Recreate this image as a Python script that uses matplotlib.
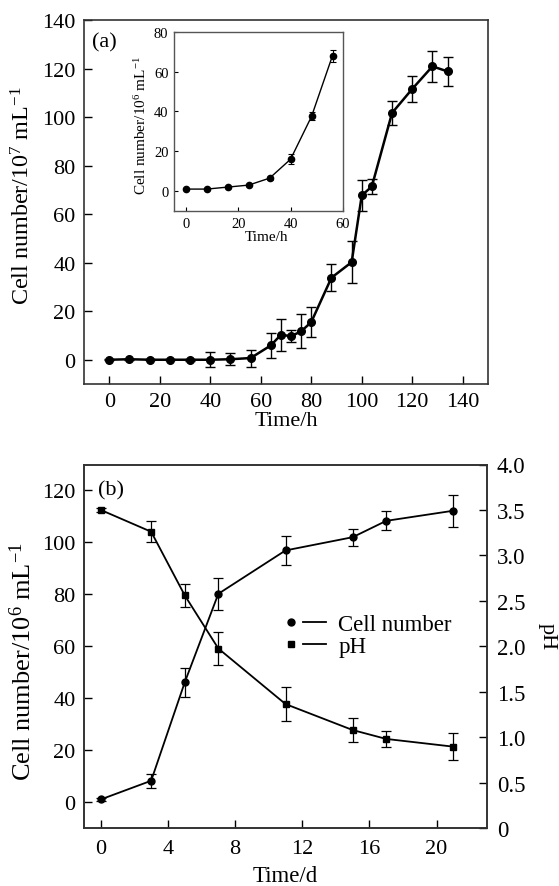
import matplotlib
matplotlib.use("Agg")
import matplotlib.pyplot as plt
from matplotlib.lines import Line2D
from matplotlib.legend_handler import HandlerTuple

plt.rcParams['font.family'] = ['Liberation Serif', 'DejaVu Serif']
plt.rcParams['mathtext.fontset'] = 'custom'
plt.rcParams['mathtext.rm'] = 'Liberation Serif'
plt.rcParams['mathtext.it'] = 'Liberation Serif:italic'
plt.rcParams['mathtext.bf'] = 'Liberation Serif:bold'

# ---- panel (a) main data ----
time_a = [0, 8, 16, 24, 32, 40, 48, 56, 64, 68, 72, 76, 80, 88, 96, 100, 104, 112, 120, 128, 134]
cells_a = [0, 0.2, 0, 0, 0, 0, 0.2, 0.7, 5.9, 10.3, 9.7, 11.7, 15.5, 33.8, 40.2, 67.7, 71.4, 101.7, 111.6, 120.9, 118.8]
err_a = [0.3, 0.3, 0.3, 0.3, 0.5, 3, 2.5, 3.5, 5, 6.5, 2.5, 7, 6.3, 5.6, 8.7, 6.3, 3, 5, 5.2, 6.5, 5.8]

# ---- panel (a) inset data ----
time_in = [0, 8, 16, 24, 32, 40, 48, 56]
cells_in = [1, 1, 2, 3, 6.5, 16, 37.5, 68]
err_in = [0.3, 0.3, 0.4, 0.5, 0.8, 2.5, 2, 3]

# ---- panel (b) data ----
time_b = [0, 3, 5, 7, 11, 15, 17, 21]
cells_b = [1, 8.2, 46.1, 80.2, 96.9, 102, 108.3, 112.2]
err_cells_b = [0.5, 2.7, 5.6, 6.1, 5.5, 3.3, 3.7, 6.2]
ph_b = [3.5, 3.26, 2.56, 1.975, 1.364, 1.078, 0.98, 0.895]
err_ph_b = [0.02, 0.115, 0.13, 0.18, 0.19, 0.135, 0.09, 0.15]

W, H = 559, 887
fig = plt.figure(figsize=(W / 100, H / 100), dpi=100)

spine_c = '#333333'
FS = 16


def style(ax, fs, right=False):
    for s in ax.spines.values():
        s.set_color(spine_c)
        s.set_linewidth(1.2)
    ax.tick_params(direction='in', length=6, width=1, colors='black', labelsize=fs,
                   top=False, right=right, pad=6)


def fbox(x0, y0, x1, y1):
    return [x0 / W, 1 - y1 / H, (x1 - x0) / W, (y1 - y0) / H]


# ---------------- (a) ----------------
ax1 = fig.add_axes(fbox(84, 21, 488, 385))
ax1.errorbar(time_a, cells_a, yerr=err_a, color='black', lw=1.8, marker='o', ms=5.5,
             elinewidth=1, capsize=3.5, capthick=1)
ax1.set_xlim(-10, 150)
ax1.set_ylim(-10, 140)
ax1.set_xticks(range(0, 141, 20))
ax1.set_yticks(range(0, 141, 20))
style(ax1, FS)
ax1.set_xlabel('Time/h', fontsize=FS, labelpad=0)
ax1.set_ylabel(r'Cell number/10$^{7}$ mL$^{-1}$', fontsize=17.4, va='center', ha='center')
ax1.yaxis.set_label_coords(-0.152, 0.519)
ax1.text(0.02, 0.94, '(a)', transform=ax1.transAxes, fontsize=FS, va='center', ha='left')

# inset
axi = fig.add_axes(fbox(174, 32.7, 343, 212))
axi.errorbar(time_in, cells_in, yerr=err_in, color='black', lw=1.0, marker='o', ms=4.5,
             elinewidth=0.8, capsize=2.5, capthick=0.8)
axi.set_xlim(-4.5, 60)
axi.set_ylim(-10, 80)
axi.set_xticks([0, 20, 40, 60])
axi.set_yticks([0, 20, 40, 60, 80])
for s in axi.spines.values():
    s.set_color('#555555')
    s.set_linewidth(1.0)
axi.tick_params(direction='in', length=3, width=0.8, labelsize=10.5, pad=4)
axi.set_xlabel('Time/h', fontsize=11, va='center', ha='center')
axi.xaxis.set_label_coords(0.55, -0.145)
axi.set_ylabel(r'Cell number/10$^{6}$ mL$^{-1}$', fontsize=11, va='center', ha='center')
axi.yaxis.set_label_coords(-0.195, 0.485)

# ---------------- (b) ----------------
ax2 = fig.add_axes(fbox(84, 465.5, 487, 829))
ax2.errorbar(time_b, cells_b, yerr=err_cells_b, color='black', lw=1.3, marker='o', ms=5,
             elinewidth=0.9, capsize=3.5, capthick=0.9)
ax2.set_xlim(-1, 23)
ax2.set_ylim(-10, 130)
ax2.set_xticks(range(0, 21, 4))
ax2.set_yticks(range(0, 121, 20))
style(ax2, FS)
ax2.tick_params(axis='x', pad=8)
ax2.set_xlabel('Time/d', fontsize=16.5, labelpad=5)
ax2.set_ylabel(r'Cell number/10$^{6}$ mL$^{-1}$', fontsize=19, va='center', ha='center')
ax2.yaxis.set_label_coords(-0.152, 0.46)
ax2.text(0.035, 0.93, '(b)', transform=ax2.transAxes, fontsize=FS, va='center', ha='left')

ax3 = ax2.twinx()
ax3.errorbar(time_b, ph_b, yerr=err_ph_b, color='black', lw=1.3, marker='s', ms=4.5,
             elinewidth=0.9, capsize=3.5, capthick=0.9)
ax3.set_ylim(0, 4.0)
ax3.set_yticks([0, 0.5, 1.0, 1.5, 2.0, 2.5, 3.0, 3.5, 4.0])
ax3.set_yticklabels(['0', '0.5', '1.0', '1.5', '2.0', '2.5', '3.0', '3.5', '4.0'])
for s in ax3.spines.values():
    s.set_color(spine_c)
    s.set_linewidth(1.2)
ax3.tick_params(direction='in', length=6, width=1, labelsize=16.5, pad=7)
ax3.set_ylabel('pH', fontsize=FS, rotation=270, va='center', ha='center')
ax3.yaxis.set_label_coords(1.15, 0.53)

h_cell = (Line2D([], [], color='black', marker='o', ms=5, ls='none'),
          Line2D([], [], color='black', lw=1.3))
h_ph = (Line2D([], [], color='black', marker='s', ms=4.5, ls='none'),
        Line2D([], [], color='black', lw=1.3))
ax2.legend([h_cell, h_ph], ['Cell number', 'pH'],
           handler_map={tuple: HandlerTuple(ndivide=None, pad=0.0)},
           loc='center left', bbox_to_anchor=(0.486, 0.529), frameon=False,
           fontsize=16.5, handlelength=2.0, handletextpad=0.55, labelspacing=0.05,
           borderpad=0, borderaxespad=0)

fig.savefig('out.png', dpi=100)
